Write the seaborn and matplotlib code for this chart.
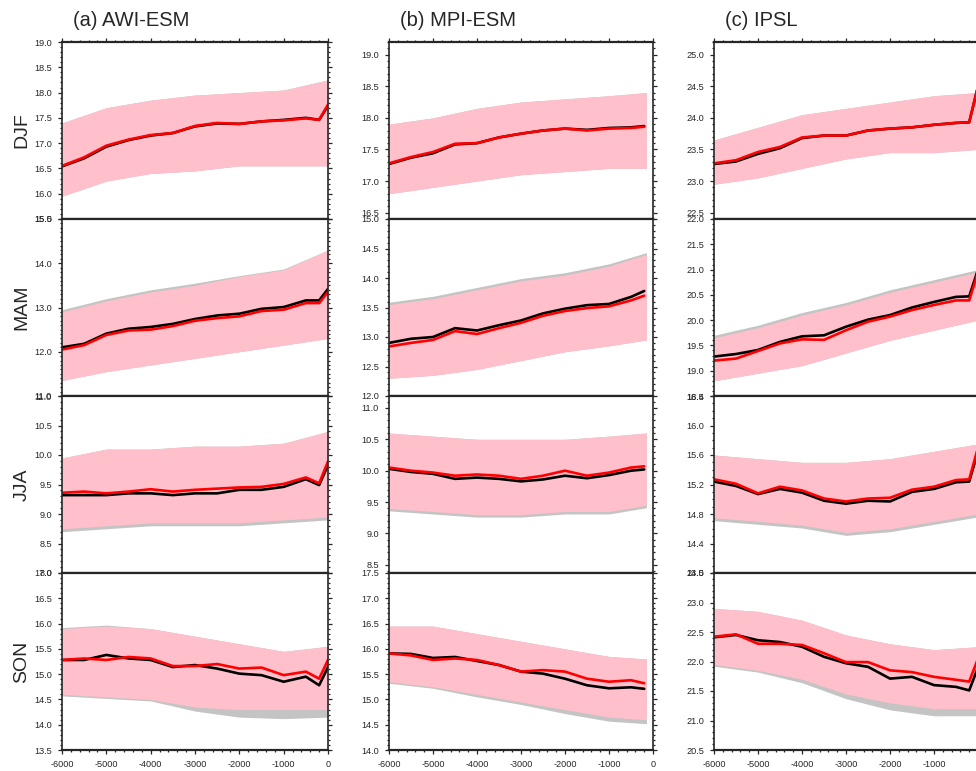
import pandas as pd
import matplotlib
matplotlib.use("Agg")
import matplotlib.pyplot as plt
import seaborn as sns
from matplotlib.ticker import MultipleLocator, FormatStrFormatter, FuncFormatter

# --- labels
seasons = ["DJF", "MAM", "JJA", "SON"]
models = ["(a) AWI-ESM", "(b) MPI-ESM", "(c) IPSL"]

# --- time axes (years BP, smoothed lines / spread envelopes)
years_full = [-6000, -5500, -5000, -4500, -4000, -3500, -3000, -2500, -2000, -1500, -1000, -500, -200, 0]
years_mpi = [-6000, -5500, -5000, -4500, -4000, -3500, -3000, -2500, -2000, -1500, -1000, -500, -200]
env_full = [-6000, -5000, -4000, -3000, -2000, -1000, 0]
env_mpi = [-6000, -5000, -4000, -3000, -2000, -1000, -150]

# --- AWI-ESM (DJF, MAM, JJA, SON)
awi_black = [
    [16.54, 16.70, 16.93, 17.06, 17.15, 17.20, 17.33, 17.39, 17.38, 17.43, 17.46, 17.50, 17.46, 17.74],
    [12.10, 12.18, 12.41, 12.52, 12.56, 12.63, 12.74, 12.82, 12.86, 12.97, 13.01, 13.16, 13.16, 13.42],
    [9.32, 9.32, 9.32, 9.35, 9.35, 9.32, 9.35, 9.35, 9.41, 9.41, 9.46, 9.59, 9.49, 9.83],
    [15.28, 15.28, 15.38, 15.31, 15.28, 15.14, 15.18, 15.11, 15.01, 14.98, 14.85, 14.95, 14.78, 15.14],
]
awi_red = [
    [16.55, 16.72, 16.95, 17.07, 17.16, 17.20, 17.34, 17.40, 17.38, 17.43, 17.45, 17.49, 17.46, 17.76],
    [12.05, 12.15, 12.38, 12.48, 12.50, 12.58, 12.70, 12.76, 12.80, 12.92, 12.95, 13.10, 13.10, 13.35],
    [9.36, 9.38, 9.35, 9.38, 9.42, 9.38, 9.41, 9.43, 9.45, 9.46, 9.51, 9.62, 9.52, 9.89],
    [15.28, 15.31, 15.28, 15.34, 15.31, 15.16, 15.16, 15.20, 15.11, 15.13, 14.98, 15.05, 14.91, 15.28],
]
awi_pink_hi = [
    [17.40, 17.70, 17.85, 17.95, 18.00, 18.05, 18.25],
    [12.90, 13.15, 13.35, 13.50, 13.70, 13.85, 14.30],
    [9.95, 10.10, 10.10, 10.15, 10.15, 10.20, 10.40],
    [15.90, 15.95, 15.90, 15.75, 15.60, 15.45, 15.55],
]
awi_pink_lo = [
    [15.95, 16.25, 16.40, 16.45, 16.55, 16.55, 16.55],
    [11.35, 11.55, 11.70, 11.85, 12.00, 12.15, 12.30],
    [8.75, 8.80, 8.85, 8.85, 8.85, 8.90, 8.95],
    [14.60, 14.55, 14.50, 14.35, 14.30, 14.30, 14.30],
]
awi_gray_hi = [
    [17.40, 17.70, 17.85, 17.95, 18.00, 18.05, 18.25],
    [12.95, 13.20, 13.40, 13.55, 13.72, 13.87, 14.30],
    [9.95, 10.10, 10.10, 10.15, 10.15, 10.20, 10.40],
    [15.92, 15.97, 15.90, 15.75, 15.60, 15.45, 15.55],
]
awi_gray_lo = [
    [15.95, 16.25, 16.40, 16.45, 16.55, 16.55, 16.55],
    [11.35, 11.55, 11.70, 11.85, 12.00, 12.15, 12.30],
    [8.70, 8.75, 8.80, 8.80, 8.80, 8.85, 8.90],
    [14.57, 14.52, 14.47, 14.27, 14.15, 14.12, 14.15],
]

# --- MPI-ESM
mpi_black = [
    [17.27, 17.37, 17.44, 17.58, 17.60, 17.69, 17.75, 17.80, 17.83, 17.81, 17.84, 17.85, 17.87],
    [12.90, 12.97, 13.00, 13.15, 13.11, 13.20, 13.28, 13.40, 13.48, 13.54, 13.56, 13.68, 13.78],
    [10.03, 9.98, 9.95, 9.87, 9.89, 9.87, 9.83, 9.86, 9.92, 9.88, 9.93, 10.00, 10.02],
    [15.91, 15.90, 15.82, 15.84, 15.76, 15.68, 15.55, 15.51, 15.41, 15.28, 15.22, 15.24, 15.21],
]
mpi_red = [
    [17.28, 17.38, 17.46, 17.59, 17.60, 17.69, 17.75, 17.80, 17.83, 17.80, 17.83, 17.84, 17.86],
    [12.84, 12.90, 12.95, 13.10, 13.05, 13.15, 13.24, 13.36, 13.44, 13.49, 13.52, 13.62, 13.70],
    [10.05, 10.00, 9.97, 9.92, 9.94, 9.92, 9.87, 9.92, 10.00, 9.92, 9.97, 10.05, 10.07],
    [15.91, 15.87, 15.78, 15.81, 15.78, 15.68, 15.55, 15.58, 15.55, 15.41, 15.35, 15.38, 15.32],
]
mpi_pink_hi = [
    [17.90, 18.00, 18.15, 18.25, 18.30, 18.35, 18.40],
    [13.55, 13.65, 13.80, 13.95, 14.05, 14.20, 14.40],
    [10.60, 10.55, 10.50, 10.50, 10.50, 10.55, 10.60],
    [16.45, 16.45, 16.30, 16.15, 16.00, 15.85, 15.80],
]
mpi_pink_lo = [
    [16.80, 16.90, 17.00, 17.10, 17.15, 17.20, 17.20],
    [12.30, 12.35, 12.45, 12.60, 12.75, 12.85, 12.95],
    [9.40, 9.35, 9.30, 9.30, 9.35, 9.35, 9.45],
    [15.35, 15.25, 15.10, 14.95, 14.80, 14.65, 14.60],
]
mpi_gray_hi = [
    [17.90, 18.00, 18.15, 18.25, 18.30, 18.35, 18.40],
    [13.59, 13.69, 13.84, 13.99, 14.09, 14.24, 14.43],
    [10.60, 10.55, 10.50, 10.50, 10.50, 10.55, 10.60],
    [16.45, 16.45, 16.30, 16.15, 16.00, 15.85, 15.80],
]
mpi_gray_lo = [
    [16.80, 16.90, 17.00, 17.10, 17.15, 17.20, 17.20],
    [12.30, 12.35, 12.45, 12.60, 12.75, 12.85, 12.95],
    [9.36, 9.31, 9.26, 9.26, 9.31, 9.31, 9.41],
    [15.32, 15.22, 15.05, 14.90, 14.72, 14.57, 14.52],
]

# --- IPSL
ipsl_black = [
    [23.27, 23.31, 23.43, 23.52, 23.68, 23.72, 23.72, 23.80, 23.83, 23.85, 23.89, 23.92, 23.93, 24.50],
    [19.28, 19.33, 19.41, 19.57, 19.68, 19.70, 19.87, 20.01, 20.10, 20.25, 20.36, 20.46, 20.47, 21.00],
    [15.24, 15.18, 15.07, 15.14, 15.09, 14.98, 14.94, 14.98, 14.97, 15.10, 15.14, 15.23, 15.24, 15.65],
    [22.41, 22.45, 22.36, 22.33, 22.25, 22.08, 21.97, 21.91, 21.71, 21.74, 21.60, 21.57, 21.51, 21.90],
]
ipsl_red = [
    [23.28, 23.33, 23.46, 23.54, 23.69, 23.72, 23.72, 23.80, 23.83, 23.85, 23.89, 23.92, 23.93, 24.50],
    [19.20, 19.24, 19.39, 19.54, 19.62, 19.61, 19.80, 19.97, 20.07, 20.20, 20.30, 20.39, 20.39, 20.95],
    [15.27, 15.21, 15.08, 15.17, 15.12, 15.01, 14.97, 15.01, 15.02, 15.13, 15.17, 15.26, 15.27, 15.70],
    [22.42, 22.46, 22.30, 22.30, 22.28, 22.14, 21.99, 21.99, 21.85, 21.82, 21.74, 21.69, 21.66, 22.05],
]
ipsl_pink_hi = [
    [23.65, 23.85, 24.05, 24.15, 24.25, 24.35, 24.40],
    [19.65, 19.85, 20.10, 20.30, 20.55, 20.75, 20.95],
    [15.60, 15.55, 15.50, 15.50, 15.55, 15.65, 15.75],
    [22.90, 22.85, 22.70, 22.45, 22.30, 22.20, 22.25],
]
ipsl_pink_lo = [
    [22.95, 23.05, 23.20, 23.35, 23.45, 23.45, 23.50],
    [18.80, 18.95, 19.10, 19.35, 19.60, 19.80, 20.00],
    [14.75, 14.70, 14.65, 14.55, 14.60, 14.70, 14.80],
    [21.95, 21.85, 21.70, 21.45, 21.30, 21.20, 21.20],
]
ipsl_gray_hi = [
    [23.65, 23.85, 24.05, 24.15, 24.25, 24.35, 24.40],
    [19.70, 19.90, 20.15, 20.35, 20.60, 20.80, 21.00],
    [15.60, 15.55, 15.50, 15.50, 15.55, 15.65, 15.75],
    [22.90, 22.85, 22.70, 22.45, 22.30, 22.20, 22.25],
]
ipsl_gray_lo = [
    [22.95, 23.05, 23.20, 23.35, 23.45, 23.45, 23.50],
    [18.80, 18.95, 19.10, 19.35, 19.60, 19.80, 20.00],
    [14.71, 14.66, 14.61, 14.51, 14.56, 14.66, 14.76],
    [21.92, 21.82, 21.64, 21.37, 21.18, 21.08, 21.08],
]

# --- axis ranges and major tick steps per panel
awi_ylim = [(15.5, 19.0), (11.0, 15.0), (8.0, 11.0), (13.5, 17.0)]
mpi_ylim = [(16.4, 19.2), (12.0, 15.0), (8.37, 11.19), (14.0, 17.5)]
ipsl_ylim = [(22.4, 25.2), (18.5, 22.0), (14.0, 16.4), (20.5, 23.5)]
awi_step = [0.5, 1.0, 0.5, 0.5]
mpi_step = [0.5, 0.5, 0.5, 0.5]
ipsl_step = [0.5, 0.5, 0.4, 0.5]

columns = [
    (years_full, env_full, awi_black, awi_red, awi_pink_lo, awi_pink_hi, awi_gray_lo, awi_gray_hi, awi_ylim, awi_step),
    (years_mpi, env_mpi, mpi_black, mpi_red, mpi_pink_lo, mpi_pink_hi, mpi_gray_lo, mpi_gray_hi, mpi_ylim, mpi_step),
    (years_full, env_full, ipsl_black, ipsl_red, ipsl_pink_lo, ipsl_pink_hi, ipsl_gray_lo, ipsl_gray_hi, ipsl_ylim, ipsl_step),
]

# --- style
sns.set_style("ticks")
plt.rcParams["font.family"] = ["Liberation Sans", "DejaVu Sans"]
plt.rcParams["axes.unicode_minus"] = False

W, H = 976, 771
fig = plt.figure(figsize=(W / 100, H / 100), dpi=100)

col_left = [62, 389, 714]
col_width = [266, 264, 264]
row_top = 42
row_h = 177

# the right-hand column is cut at the figure edge, so its "0" label is not shown
hide_zero = FuncFormatter(lambda v, pos: "" if v == 0 else "%d" % v)

for c, (yrs, env_x, black, red, p_lo, p_hi, g_lo, g_hi, ylims, steps) in enumerate(columns):
    for r in range(4):
        ax = fig.add_axes([col_left[c] / W, 1 - (row_top + row_h * (r + 1)) / H,
                           col_width[c] / W, row_h / H])
        ax.fill_between(env_x, g_lo[r], g_hi[r], color="#c4c4c4", lw=0, zorder=1)
        ax.fill_between(env_x, p_lo[r], p_hi[r], color="pink", lw=0, zorder=2)

        n = len(yrs)
        df = pd.DataFrame({
            "year": yrs + yrs,
            "temp": black[r] + red[r],
            "run": ["ctl"] * n + ["new"] * n,
        })
        sns.lineplot(data=df, x="year", y="temp", hue="run",
                     palette={"ctl": "black", "new": "red"},
                     estimator=None, linewidth=1.9, legend=False, ax=ax, zorder=3)

        ax.set_xlim(-6000, 0)
        ax.set_ylim(*ylims[r])
        ax.set_xlabel("")
        ax.set_ylabel("")

        ax.xaxis.set_major_locator(MultipleLocator(1000))
        ax.xaxis.set_minor_locator(MultipleLocator(200))
        if c == 2:
            ax.xaxis.set_major_formatter(hide_zero)
        ax.yaxis.set_major_locator(MultipleLocator(steps[r]))
        ax.yaxis.set_minor_locator(MultipleLocator(0.1))
        ax.yaxis.set_major_formatter(FormatStrFormatter("%.1f"))

        ax.tick_params(axis="y", which="both", direction="out", left=True, right=True,
                       labelleft=True, labelsize=6.6, pad=4, width=0.9)
        ax.tick_params(axis="x", which="both", direction="out", top=(r == 0), bottom=(r == 3),
                       labelbottom=(r == 3), labelsize=6.6, pad=4, width=0.9)
        ax.tick_params(which="major", length=3.2)
        ax.tick_params(which="minor", length=1.6)

        for side, sp in ax.spines.items():
            sp.set_visible(True)
            sp.set_linewidth(1.6 if side in ("top", "bottom") else 1.2)
            sp.set_zorder(5)

        if c == 0:
            fig.text(22 / W, 1 - (row_top + row_h * (r + 0.5)) / H, seasons[r],
                     rotation=90, ha="center", va="center", fontsize=14)

    fig.text((col_left[c] + 11) / W, 1 - 21 / H, models[c],
             ha="left", va="center", fontsize=14.5)

fig.savefig("out.png", dpi=100)
